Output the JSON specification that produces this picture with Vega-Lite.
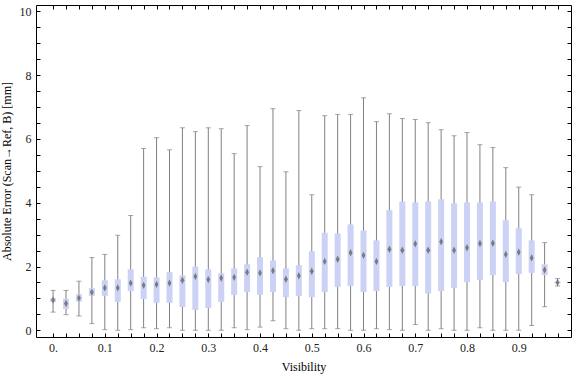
{
  "$schema": "https://vega.github.io/schema/vega-lite/v6.json",
  "width": 535,
  "height": 332,
  "autosize": "none",
  "padding": {"left": 36, "top": 5, "right": 5, "bottom": 40},
  "background": "white",
  "config": {
    "view": {"stroke": "black", "strokeWidth": 1},
    "font": "Liberation Serif",
    "axis": {
      "domain": false,
      "grid": false,
      "tickColor": "black",
      "tickWidth": 1,
      "labelFont": "Liberation Serif",
      "labelFontSize": 12,
      "labelColor": "#222222",
      "titleFont": "Liberation Serif",
      "titleFontSize": 12,
      "titleFontWeight": "normal",
      "titleColor": "black"
    }
  },
  "data": {
    "values": [
      {"v": 0, "min": 0.57, "q1": 0.89, "med": 0.95, "q3": 1.0, "max": 1.25},
      {"v": 0.025, "min": 0.49, "q1": 0.67, "med": 0.84, "q3": 0.99, "max": 1.25},
      {"v": 0.05, "min": 0.45, "q1": 0.9, "med": 1.01, "q3": 1.13, "max": 1.54},
      {"v": 0.075, "min": 0.21, "q1": 1.08, "med": 1.19, "q3": 1.32, "max": 2.28},
      {"v": 0.1, "min": 0.02, "q1": 1.08, "med": 1.33, "q3": 1.57, "max": 2.38},
      {"v": 0.125, "min": 0, "q1": 0.89, "med": 1.33, "q3": 1.6, "max": 2.98},
      {"v": 0.15, "min": 0.02, "q1": 1.23, "med": 1.48, "q3": 1.91, "max": 3.6},
      {"v": 0.175, "min": 0.08, "q1": 0.98, "med": 1.41, "q3": 1.68, "max": 5.7},
      {"v": 0.2, "min": 0.05, "q1": 0.86, "med": 1.44, "q3": 1.66, "max": 6.04},
      {"v": 0.225, "min": 0.08, "q1": 0.86, "med": 1.48, "q3": 1.82, "max": 5.66},
      {"v": 0.25, "min": 0, "q1": 0.73, "med": 1.57, "q3": 1.72, "max": 6.35},
      {"v": 0.275, "min": 0, "q1": 0.64, "med": 1.69, "q3": 2.0, "max": 6.23},
      {"v": 0.3, "min": 0, "q1": 0.7, "med": 1.59, "q3": 1.91, "max": 6.35},
      {"v": 0.325, "min": 0, "q1": 0.89, "med": 1.64, "q3": 1.79, "max": 6.32},
      {"v": 0.35, "min": 0.08, "q1": 1.11, "med": 1.66, "q3": 1.94, "max": 5.54},
      {"v": 0.375, "min": 0.02, "q1": 1.2, "med": 1.82, "q3": 2.07, "max": 6.42},
      {"v": 0.4, "min": 0.1, "q1": 1.11, "med": 1.8, "q3": 2.29, "max": 5.13},
      {"v": 0.425, "min": 0.3, "q1": 1.2, "med": 1.87, "q3": 2.19, "max": 6.95},
      {"v": 0.45, "min": 0.05, "q1": 1.04, "med": 1.6, "q3": 1.94, "max": 4.97},
      {"v": 0.475, "min": 0, "q1": 1.08, "med": 1.71, "q3": 2.04, "max": 6.89},
      {"v": 0.5, "min": 0.05, "q1": 1.04, "med": 1.85, "q3": 2.48, "max": 4.25},
      {"v": 0.525, "min": 0.05, "q1": 1.2, "med": 2.16, "q3": 3.06, "max": 6.73},
      {"v": 0.55, "min": 0.05, "q1": 1.36, "med": 2.23, "q3": 3.04, "max": 6.77},
      {"v": 0.575, "min": 0, "q1": 1.39, "med": 2.43, "q3": 3.32, "max": 6.77},
      {"v": 0.6, "min": 0, "q1": 1.2, "med": 2.35, "q3": 3.13, "max": 7.29},
      {"v": 0.625, "min": 0.05, "q1": 1.23, "med": 2.16, "q3": 2.82, "max": 6.54},
      {"v": 0.65, "min": 0.02, "q1": 1.36, "med": 2.54, "q3": 3.77, "max": 6.79},
      {"v": 0.675, "min": 0, "q1": 1.39, "med": 2.51, "q3": 4.04, "max": 6.64},
      {"v": 0.7, "min": 0.18, "q1": 1.39, "med": 2.71, "q3": 4.01, "max": 6.61},
      {"v": 0.725, "min": 0, "q1": 1.15, "med": 2.51, "q3": 4.04, "max": 6.51},
      {"v": 0.75, "min": 0.05, "q1": 1.23, "med": 2.78, "q3": 4.11, "max": 6.29},
      {"v": 0.775, "min": 0, "q1": 1.33, "med": 2.51, "q3": 3.98, "max": 6.1},
      {"v": 0.8, "min": 0, "q1": 1.51, "med": 2.59, "q3": 4.01, "max": 6.2},
      {"v": 0.825, "min": 0.08, "q1": 1.58, "med": 2.72, "q3": 4.01, "max": 5.82},
      {"v": 0.85, "min": 0, "q1": 1.73, "med": 2.73, "q3": 4.04, "max": 5.73},
      {"v": 0.875, "min": 0, "q1": 1.51, "med": 2.38, "q3": 3.45, "max": 5.1},
      {"v": 0.9, "min": 0, "q1": 1.76, "med": 2.45, "q3": 3.2, "max": 4.49},
      {"v": 0.925, "min": 0.15, "q1": 1.8, "med": 2.27, "q3": 2.82, "max": 4.25},
      {"v": 0.95, "min": 0.74, "q1": 1.73, "med": 1.89, "q3": 2.07, "max": 2.75},
      {"v": 0.975, "min": 1.39, "q1": 1.47, "med": 1.5, "q3": 1.53, "max": 1.62}
    ]
  },
  "resolve": {"axis": {"x": "independent", "y": "independent"}},
  "layer": [
    {
      "mark": {"type": "rule", "color": "#808080", "strokeWidth": 1},
      "encoding": {
        "x": {
          "field": "v", "type": "quantitative",
          "scale": {"domain": [-0.033, 1.001], "nice": false, "zero": false},
          "axis": {
            "orient": "bottom",
            "title": "Visibility",
            "titlePadding": 8,
            "values": [0,0.025,0.05,0.075,0.1,0.125,0.15,0.175,0.2,0.225,0.25,0.275,0.3,0.325,0.35,0.375,0.4,0.425,0.45,0.475,0.5,0.525,0.55,0.575,0.6,0.625,0.65,0.675,0.7,0.725,0.75,0.775,0.8,0.825,0.85,0.875,0.9,0.925,0.95,0.975],
            "labelExpr": "abs(datum.value*10 - round(datum.value*10)) < 0.001 ? (datum.value == 0 ? '0.' : format(datum.value, '.1f')) : ''",
            "offset": -4,
            "tickSize": 4,
            "labelPadding": 5,
            "labelOverlap": false,
            "labelFlush": false
          }
        },
        "y": {
          "field": "min", "type": "quantitative",
          "scale": {"domain": [-0.21, 10.2], "nice": false, "zero": false},
          "axis": {
            "orient": "left",
            "title": "Absolute Error (Scan→Ref, B) [mm]",
            "titlePadding": 6,
            "values": [0,0.5,1,1.5,2,2.5,3,3.5,4,4.5,5,5.5,6,6.5,7,7.5,8,8.5,9,9.5,10],
            "labelExpr": "datum.value % 2 == 0 ? format(datum.value, 'd') : ''",
            "offset": -4,
            "tickSize": 4,
            "labelPadding": 5,
            "labelOverlap": false,
            "labelFlush": false
          }
        },
        "y2": {"field": "max"}
      }
    },
    {
      "mark": {"type": "tick", "orient": "horizontal", "size": 5, "thickness": 1, "color": "#808080"},
      "encoding": {
        "x": {
          "field": "v", "type": "quantitative",
          "axis": {
            "orient": "top", "title": null, "labels": false,
            "values": [0,0.025,0.05,0.075,0.1,0.125,0.15,0.175,0.2,0.225,0.25,0.275,0.3,0.325,0.35,0.375,0.4,0.425,0.45,0.475,0.5,0.525,0.55,0.575,0.6,0.625,0.65,0.675,0.7,0.725,0.75,0.775,0.8,0.825,0.85,0.875,0.9,0.925,0.95,0.975],
            "offset": -4,
            "tickSize": 4
          }
        },
        "y": {
          "field": "min", "type": "quantitative",
          "axis": {
            "orient": "right", "title": null, "labels": false,
            "values": [0,0.5,1,1.5,2,2.5,3,3.5,4,4.5,5,5.5,6,6.5,7,7.5,8,8.5,9,9.5,10],
            "offset": -4,
            "tickSize": 4
          }
        }
      }
    },
    {
      "mark": {"type": "tick", "orient": "horizontal", "size": 5, "thickness": 1, "color": "#808080"},
      "encoding": {
        "x": {"field": "v", "type": "quantitative", "axis": null},
        "y": {"field": "max", "type": "quantitative", "axis": null}
      }
    },
    {
      "mark": {"type": "rule", "color": "#cbd2f5", "strokeWidth": 6, "strokeCap": "butt"},
      "encoding": {
        "x": {"field": "v", "type": "quantitative", "axis": null},
        "y": {"field": "q1", "type": "quantitative", "axis": null},
        "y2": {"field": "q3"}
      }
    },
    {
      "mark": {"type": "point", "shape": "M0,-1L0.5,0L0,1L-0.5,0Z", "filled": true, "color": "#707070", "opacity": 0.9, "size": 55},
      "encoding": {
        "x": {"field": "v", "type": "quantitative", "axis": null},
        "y": {"field": "med", "type": "quantitative", "axis": null}
      }
    }
  ]
}
